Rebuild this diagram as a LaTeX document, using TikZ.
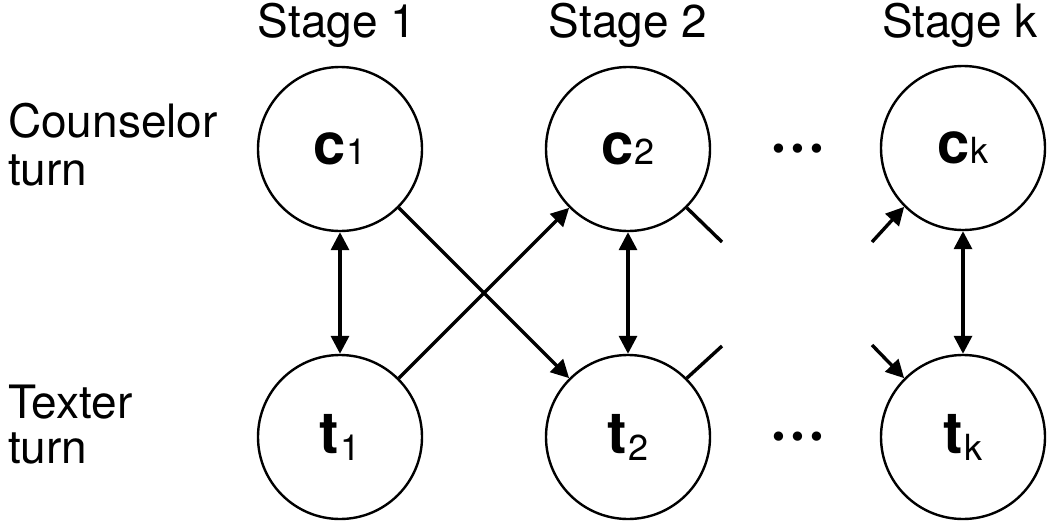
\documentclass[tikz,border=0pt]{standalone}
\usepackage{fontspec}
\setmainfont{TeX Gyre Heros}
\newfontfamily\dotfont{DejaVu Sans}
\usetikzlibrary{arrows.meta}
\begin{document}
\begin{tikzpicture}[x=1pt,y=-1pt,
  state/.style={circle,draw,line width=2.4pt,minimum size=164pt,inner sep=0pt},
  lbl/.style={font=\fontsize{46}{48}\selectfont,anchor=base,inner sep=0pt},
  side/.style={font=\fontsize{46}{48}\selectfont,anchor=base west,inner sep=0pt},
  conn/.style={line width=3.4pt},
  arr/.style={conn,-{Triangle[length=18pt,width=18pt]}},
  darr/.style={conn,{Triangle[length=18pt,width=18pt]}-{Triangle[length=18pt,width=18pt]}},
  dots/.style={font=\fontsize{32}{34}\selectfont\dotfont,anchor=base,inner sep=0pt}]
\useasboundingbox (0,0) rectangle (1050,522);
\newcommand{\lab}[2]{{\fontsize{58}{60}\selectfont\bfseries #1}{\fontsize{36}{38}\selectfont #2}}
\newcommand{\labt}[2]{{\fontsize{58}{60}\selectfont\bfseries #1}\,\raisebox{-7pt}{\fontsize{36}{38}\selectfont #2}}
% stage labels
\node[lbl] (s1) at (337,37) {Stage 1};
\node[lbl] (s2) at (628,37) {Stage 2};
\node[lbl] (sk) at (960,37) {Stage k};
% side labels
\node[side] (cl1) at (8,137) {Counselor};
\node[side] (cl2) at (8,185) {turn};
\node[side] (tl1) at (8,418) {Texter};
\node[side] (tl2) at (8,463) {turn};
% states
\node[state] (c1) at (340,149) {\lab{c}{1}};
\node[state] (c2) at (628,149) {\lab{c}{2}};
\node[state] (ck) at (963,148) {\lab{c}{k}};
\node[state] (t1) at (340,437) {\labt{t}{1}};
\node[state] (t2) at (628,437) {\labt{t}{2}};
\node[state] (tk) at (963,437) {\labt{t}{k}};
% dots
\node[dots] (d1) at (798,160) {•••};
\node[dots] (d2) at (798,448) {•••};
% coordinates for free ends
\coordinate (c2out) at (722,242);
\coordinate (t2out) at (722,346);
\coordinate (ckin) at (872,242);
\coordinate (tkin) at (872,345);
% connectors
\draw[darr] (c1) -- (t1);
\draw[darr] (c2) -- (t2);
\draw[darr] (ck) -- (tk);
\draw[arr] (c1.-45) -- (t2.135);
\draw[arr] (t1.45) -- (c2.-135);
\draw[conn] (c2.-45) -- (c2out);
\draw[conn] (t2.45) -- (t2out);
\draw[arr] (ckin) -- (ck.-135);
\draw[arr] (tkin) -- (tk.135);
\end{tikzpicture}
\end{document}
